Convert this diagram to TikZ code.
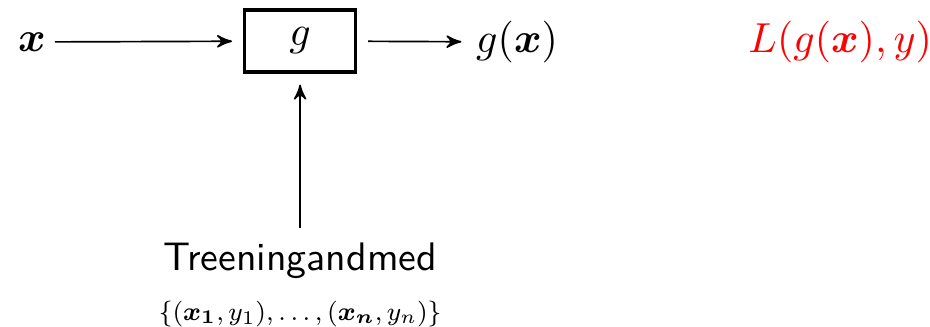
\documentclass[tikz,border=0pt]{standalone}
\usepackage{amsmath}
\usepackage{amsfonts}
\usepackage{tikz}
\usetikzlibrary{arrows}
\usetikzlibrary{positioning}

\begin{document}
\begin{tikzpicture}[>=stealth', model/.style={draw, thick, minimum width=0.93cm, minimum height=0.52cm, outer sep=3pt}]
  \useasboundingbox (0, 0) rectangle (7.8, 2.735);

  \node[inner sep=2pt] (x) at (0.268, 2.383) {$\boldsymbol{x}$};
  \node[model] (g) at (2.517, 2.391) {$g$};
  \node[anchor=west] (gx) at (3.87, 2.383) {$g(\boldsymbol{x})$};
  \node[red] (loss) at (7.047, 2.383) {$L(g(\boldsymbol{x}), y)$};

  \node[font=\fontsize{9.5}{11}\selectfont\sffamily] (data) at (2.517, 0.55) {Treeningandmed};
  \node[font=\footnotesize, scale=0.77] (set) at (2.517, 0.1)
    {$\{(\boldsymbol{x_1}, y_1), \ldots, (\boldsymbol{x_n}, y_n)\}$};

  \draw[->] (x) -- (g);
  \draw[->] (g) -- (gx);
  \draw[->] (data) -- (g);
\end{tikzpicture}
\end{document}
